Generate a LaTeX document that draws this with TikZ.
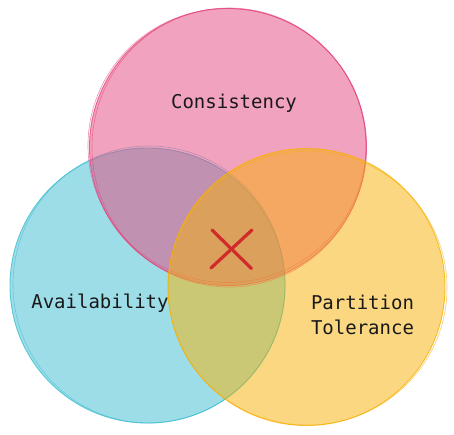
\documentclass[tikz,border=0pt]{standalone}
\usepackage{fontspec}
\setmonofont{DejaVu Sans Mono}
\definecolor{pinkc}{RGB}{228,70,125}
\definecolor{cyanc}{RGB}{60,188,208}
\definecolor{yellc}{RGB}{247,176,5}
\definecolor{xred}{RGB}{208,42,42}
\definecolor{ink}{RGB}{25,25,25}
\begin{document}
\begin{tikzpicture}[x=1pt,y=-1pt,
  blob/.style={circle, inner sep=0pt, minimum size=#1, fill opacity=0.5, draw opacity=0.8, line width=0.9pt},
  sketch/.style={draw opacity=0.6, line width=0.6pt},
  lbl/.style={font=\ttfamily\fontsize{19}{25}\selectfont, align=center, text=ink, inner sep=0pt},
  cross/.style={xred, line width=3.2pt, line cap=round}]
\useasboundingbox (0,0) rectangle (454,434);
% circles: cyan, pink, yellow (in that stacking order)
\node[blob=275pt, fill=cyanc, draw=cyanc] (A) at (147.5,285.5) {};
\draw[sketch, cyanc] ([xshift=1.5pt,yshift=1pt]A.center) circle [x radius=136, y radius=138.5];
\node[blob=277pt, fill=pinkc, draw=pinkc] (C) at (228,147) {};
\draw[sketch, pinkc] ([xshift=-1pt,yshift=1.5pt]C.center) circle [x radius=139, y radius=137];
\draw[sketch, pinkc] ([xshift=1pt,yshift=-0.5pt]C.center) circle [x radius=137, y radius=139.5];
\node[blob=277pt, fill=yellc, draw=yellc] (P) at (306.5,287) {};
\draw[sketch, yellc] ([xshift=1pt,yshift=-1pt]P.center) circle [x radius=139.5, y radius=137];
% labels
\node[lbl] (tc) at (234,103.5) {Consistency};
\node[lbl] (ta) at (100,303.5) {Availability};
\node[lbl] (tp) at (362.5,315) {Partition\\Tolerance};
% red cross
\coordinate (x1) at (212,230);
\coordinate (x2) at (251.5,268.5);
\coordinate (x3) at (252,230);
\coordinate (x4) at (211,268);
\draw[cross] (x1) -- (x2);
\draw[cross] (x3) -- (x4);
\end{tikzpicture}
\end{document}
